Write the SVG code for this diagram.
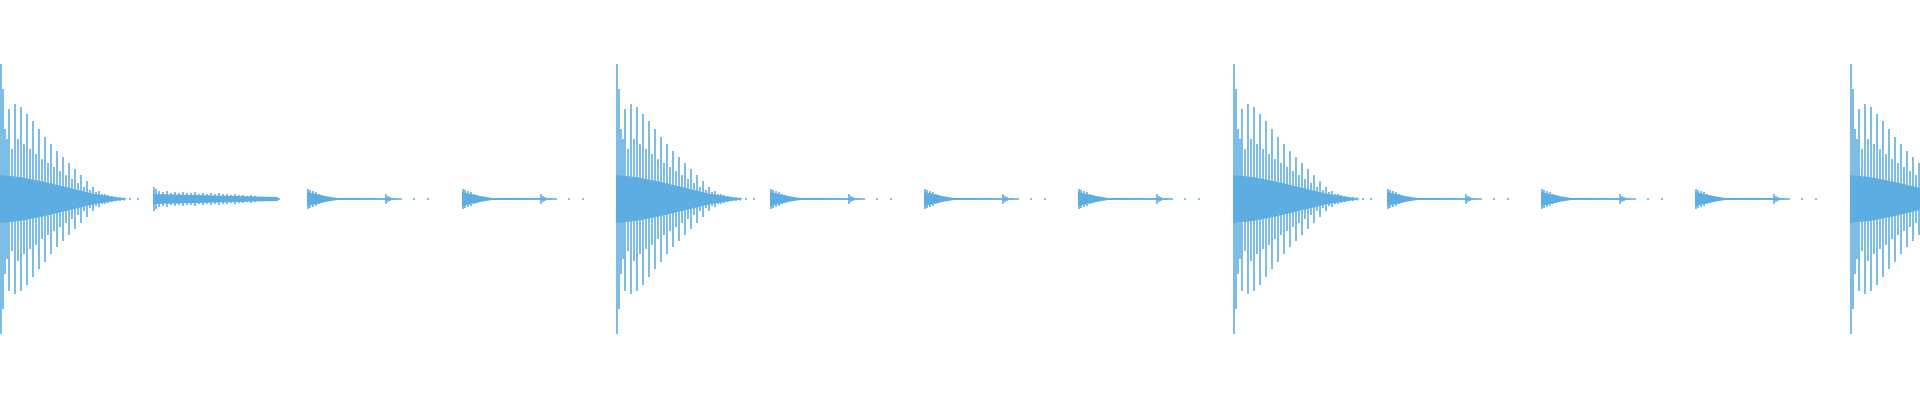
<svg xmlns="http://www.w3.org/2000/svg" width="1920" height="400" viewBox="0 0 1920 400">
<style>
.w{stroke:#5DADE2;stroke-width:1.6;fill:none}
.f{fill:#5DADE2;stroke:none}
</style>
<defs>
<g id="big">
<path class="f" d="M0 -24 L20 -22 L45 -17 L70 -11 L95 -5 L115 -2 L128 0 L115 2 L95 5 L70 11 L45 17 L20 22 L0 24Z"/>
<path class="w" d="M1 -135V135M3 -110V110M5 -70V75M7 -60V60M9 -90V92M12 -50V52M15 -95V95M18 -60V62M21 -92V92M24 -55V55M27 -85V86M30 -50V50M33 -78V78M36 -45V46M39 -70V70M42 -40V40M45 -62V63M48 -36V36M51 -55V55M54 -32V32M57 -48V48M60 -28V28M63 -42V42M66 -24V24M69 -36V36M72 -20V20M75 -30V30M78 -16V16M81 -24V24M84 -12V12M87 -18V18M90 -9V9M93 -12V12M96 -7V7M99 -8V8M102 -5V5M105 -5V5M108 -4V4M112 -3V3M116 -2V2M120 -2V2M124 -1.5V1.5M130 -1V1M138 -1V1"/>
</g>
<g id="s1">
<path class="f" d="M0 -5 L125 -2 L125 2 L0 5Z"/>
<path class="w" d="M1 -12V12M3 -10V10M6 -8V8M10 -7V7M14 -8V8M18 -6V6M22 -7V7M26 -6V6M30 -7V7M34 -6V6M38 -6V6M42 -7V7M46 -5V5M50 -6V6M54 -5V5M58 -6V6M62 -5V5M66 -6V6M70 -5V5M74 -5V5M78 -4V4M82 -5V5M86 -4V4M90 -4V4M94 -3V3M98 -4V4M102 -3V3M108 -2V2M114 -2V2M120 -1.5V1.5M126 -1V1"/>
</g>
<g id="s2">
<path class="f" d="M0 -7 L18 -3 L30 -1 L90 -0.6 L90 0.6 L30 1 L18 3 L0 7Z"/>
<path class="w" d="M1 -10V10M3 -9V9M6 -8V8M9 -7V7M12 -5V5M15 -4V4M18 -3V3M22 -2V2M79 -5V5M81 -3V3M83 -2V2M30 0H95M106 0H108M120 0H122"/>
</g>
</defs>
<g id="hit1"><use href="#big" transform="translate(0,199)"/><use href="#s1" transform="translate(153,199)"/><use href="#s2" transform="translate(307,199)"/><use href="#s2" transform="translate(462,199)"/></g>
<g id="hit2"><use href="#big" transform="translate(616,199)"/><use href="#s2" transform="translate(770,199)"/><use href="#s2" transform="translate(924,199)"/><use href="#s2" transform="translate(1078,199)"/></g>
<g id="hit3"><use href="#big" transform="translate(1233,199)"/><use href="#s2" transform="translate(1387,199)"/><use href="#s2" transform="translate(1541,199)"/><use href="#s2" transform="translate(1695,199)"/></g>
<g id="hit4"><use href="#big" transform="translate(1850,199)"/></g>
</svg>
